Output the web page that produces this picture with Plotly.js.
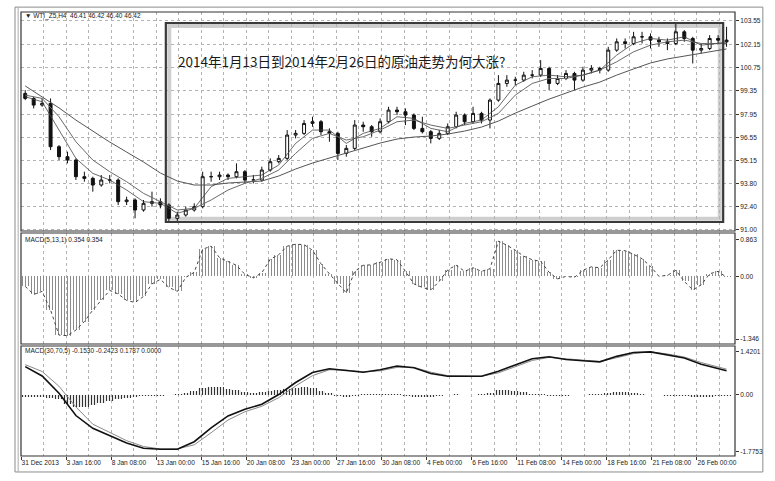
<!DOCTYPE html>
<html>
<head>
<meta charset="utf-8">
<script src="https://cdn.plot.ly/plotly-3.0.1.min.js"></script>
<style>html,body{margin:0;padding:0;background:#fff;}#chart{width:775px;height:481px;}</style>
</head>
<body>
<div id="chart"></div>
<script>
// ---- Data ----
// 12-hour aggregated candles (3 x H4 bars each), 31 Dec 2013 .. 26 Feb 2014
const openP = [99.2,98.9,98.5,98.6,96.0,95.4,95.2,94.2,94.1,93.7,
94.0,94.0,92.7,92.8,92.2,92.6,92.7,92.5,91.7,91.9,
92.2,92.4,94.2,94.2,94.3,94.2,94.5,94.0,94.0,94.6,
95.1,95.3,96.7,96.8,97.4,97.5,96.9,96.8,95.6,95.9,
97.3,97.2,96.9,97.5,98.2,98.1,97.9,97.1,96.9,96.5,
96.8,97.2,97.9,97.5,98.0,97.6,98.8,99.8,100.0,100.0,
100.3,100.3,100.7,99.8,100.1,100.4,100.0,100.6,100.7,100.6,
101.8,102.3,102.2,102.6,102.6,102.4,102.3,102.2,102.9,102.5,
101.8,101.9,102.5,102.4];
const highP = [99.4,99.0,98.9,98.9,96.1,95.7,95.3,94.5,94.2,94.3,
94.3,94.1,93.0,92.9,92.8,93.3,92.9,92.6,92.1,92.4,
92.6,94.5,94.5,94.5,94.4,95.0,94.6,94.3,94.8,95.3,
95.5,97.0,97.0,97.6,97.8,97.6,97.1,96.9,96.1,97.6,
97.5,97.3,97.7,98.4,98.4,98.3,98.0,97.8,97.0,97.0,
97.4,98.1,98.0,98.4,98.1,98.9,100.3,100.3,100.2,100.5,
100.6,101.2,100.8,100.3,100.6,100.5,100.8,100.9,100.8,102.0,
102.5,102.5,102.9,102.9,102.8,102.6,102.5,103.4,103.0,102.6,
102.2,102.7,102.7,103.2];
const lowP = [98.8,98.3,98.4,95.8,95.2,95.0,94.0,93.9,93.3,93.6,
93.8,92.5,92.5,91.7,92.1,92.4,92.3,91.5,91.5,91.8,
92.1,92.3,93.9,94.0,94.0,94.1,93.8,93.8,93.9,94.5,
95.0,95.2,96.5,96.7,97.2,96.7,96.3,95.2,95.4,95.8,
96.9,96.6,96.8,97.4,97.9,97.3,97.0,96.8,96.2,96.4,
96.7,97.1,97.3,97.4,97.4,97.1,98.7,99.6,99.7,99.9,
100.1,100.2,99.4,99.7,100.0,99.4,99.9,100.4,100.4,100.5,
101.7,101.9,102.1,102.2,101.9,102.0,101.8,102.1,102.3,101.0,
101.6,101.8,102.2,102.0];
const closeP = [98.9,98.5,98.6,96.0,95.4,95.2,94.2,94.1,93.7,94.0,
94.0,92.7,92.8,92.2,92.6,92.7,92.5,91.7,91.9,92.2,
92.4,94.2,94.2,94.3,94.2,94.5,94.0,94.0,94.6,95.1,
95.3,96.7,96.8,97.4,97.5,96.9,96.8,95.6,95.9,97.3,
97.2,96.9,97.5,98.2,98.1,97.9,97.1,96.9,96.5,96.8,
97.2,97.9,97.5,98.0,97.6,98.8,99.8,100.0,100.0,100.3,
100.3,100.7,99.8,100.1,100.4,100.0,100.6,100.7,100.6,101.8,
102.3,102.2,102.6,102.6,102.4,102.3,102.2,102.9,102.5,101.8,
101.9,102.5,102.4,102.3];

// indicator lines, sampled at these candle numbers
const lineIdx = [0,2,4,6,8,10,12,14,16,18,20,22,24,26,28,30,32,34,36,38,40,42,44,46,48,50,52,54,56,58,60,62,64,66,68,70,72,74,76,78,80,82,83];
const maFast = [99.0,98.7,97.0,95.3,94.4,94.0,93.4,92.7,92.6,92.0,
92.3,93.6,94.1,94.2,94.3,94.9,96.2,97.0,97.0,96.2,
96.8,97.1,97.8,97.7,97.1,96.9,97.4,97.6,98.4,99.7,
100.2,100.3,100.2,100.3,100.6,101.5,102.2,102.5,102.4,102.6,
102.1,102.2,102.3];
const maMid = [99.1,98.9,97.8,96.3,95.2,94.5,93.9,93.2,92.7,92.2,
92.3,92.8,93.4,93.8,94.1,94.6,95.6,96.5,96.8,96.4,
96.6,97.0,97.5,97.6,97.3,97.1,97.3,97.5,98.0,99.1,
99.8,100.1,100.1,100.3,100.6,101.1,101.7,102.1,102.3,102.4,
102.2,102.2,102.2];
const maSlow = [99.65,98.99,98.33,97.6,96.94,96.28,95.68,95.08,94.42,93.94,
93.7,93.7,93.82,93.88,93.94,94.24,94.66,95.02,95.32,95.62,
95.92,96.22,96.46,96.58,96.64,96.76,96.94,97.18,97.54,98.02,
98.44,98.86,99.22,99.58,99.88,100.3,100.67,101.03,101.27,101.45,
101.63,101.81,101.87];

const macd1Hist = [-0.2,-0.36,-0.3,-0.67,-1.17,-1.18,-1.07,-0.9,-0.67,-0.48,
-0.28,-0.35,-0.48,-0.52,-0.4,-0.15,-0.06,-0.22,-0.3,-0.02,
0.08,0.54,0.6,0.37,0.3,0.22,0.04,-0.03,0.07,0.34,
0.43,0.6,0.64,0.63,0.52,0.25,0.05,-0.15,-0.33,0.1,
0.22,0.23,0.28,0.35,0.33,0.1,-0.15,-0.22,-0.27,-0.1,
0.13,0.22,0.1,0.17,0.1,0.15,0.7,0.62,0.52,0.4,
0.33,0.3,0.08,-0.05,0.0,-0.02,0.12,0.19,0.17,0.33,
0.52,0.51,0.44,0.35,0.2,0.0,0.02,0.12,-0.1,-0.27,
-0.17,0.05,0.1,-0.02];

const macd2Hist = [-0.05,-0.06,-0.06,-0.08,-0.12,-0.25,-0.36,-0.35,-0.3,-0.24,
-0.18,-0.12,-0.08,-0.05,-0.04,-0.03,-0.02,-0.01,0.02,0.05,
0.1,0.2,0.23,0.22,0.18,0.13,0.09,0.06,0.08,0.12,
0.15,0.18,0.2,0.22,0.19,0.12,0.05,-0.02,-0.05,-0.03,
0.02,0.04,0.04,0.03,0.02,-0.04,-0.07,-0.07,-0.05,-0.02,
0.01,0.02,0.01,0.0,0.02,0.06,0.13,0.14,0.11,0.07,
0.04,0.02,-0.02,-0.03,-0.02,-0.01,0.0,0.02,0.03,0.05,
0.07,0.07,0.05,0.03,0.01,-0.01,-0.03,-0.02,-0.04,-0.06,
-0.06,-0.05,-0.04,-0.03];
const macd2Main = [0.82,0.55,0.05,-0.6,-0.97,-1.19,-1.40,-1.55,-1.58,-1.58,
-1.36,-0.96,-0.61,-0.42,-0.27,0.01,0.36,0.65,0.76,0.71,
0.66,0.73,0.84,0.79,0.62,0.54,0.54,0.54,0.69,0.87,
1.05,1.11,1.03,0.99,0.96,1.12,1.23,1.25,1.16,1.07,
0.89,0.77,0.70];
const macd2Signal = [0.88,0.68,0.25,-0.35,-0.85,-1.10,-1.33,-1.50,-1.57,-1.57,
-1.45,-1.10,-0.73,-0.49,-0.33,-0.08,0.26,0.56,0.73,0.72,
0.67,0.70,0.80,0.80,0.66,0.56,0.54,0.54,0.64,0.82,
1.00,1.09,1.05,1.00,0.97,1.08,1.20,1.25,1.19,1.10,
0.94,0.81,0.75];

const timeLabels = ["31 Dec 2013","3 Jan 16:00","8 Jan 08:00","13 Jan 00:00","15 Jan 16:00","20 Jan 08:00","23 Jan 00:00","27 Jan 16:00","30 Jan 08:00","4 Feb 00:00","6 Feb 16:00","11 Feb 08:00","14 Feb 00:00","18 Feb 16:00","21 Feb 08:00","26 Feb 00:00"];
const priceTicks = [103.55,102.15,100.75,99.35,97.95,96.55,95.15,93.80,92.40,91.00];
const priceTickText = ["103.55","102.15","100.75","99.35","97.95","96.55","95.15","93.80","92.40","91.00"];

const headerText = "▼ WTI_Z5,H4  46.41 46.42 46.40 46.42";
const macd1Text = "MACD(5,13,1) 0.354 0.354";
const macd2Text = "MACD(30,70,5) -0.1530 -0.2423 0.1787 0.0000";
const questionText = "2014年1月13日到2014年2月26日的原油走势为何大涨?";

// ---- Build ----
const idx = closeP.map((_, i) => i);
const barsPerCandle = 3, barsPerLabel = 16;
const labelStep = barsPerLabel / barsPerCandle;
const tickvals = timeLabels.map((_, k) => -0.5 + k * labelStep);

const FONT = "Liberation Sans, Arial, sans-serif";
const axFont = {family: FONT, size: 6.6, color: '#222'};
const GRID = '#b3b3b3';

const traces = [
  {type:'scatter', mode:'lines', x:lineIdx, y:maSlow, xaxis:'x', yaxis:'y', line:{color:'#555', width:1}, hoverinfo:'skip'},
  {type:'scatter', mode:'lines', x:lineIdx, y:maMid, xaxis:'x', yaxis:'y', line:{color:'#6a6a6a', width:1}, hoverinfo:'skip'},
  {type:'scatter', mode:'lines', x:lineIdx, y:maFast, xaxis:'x', yaxis:'y', line:{color:'#444', width:0.8}, hoverinfo:'skip'},
  {type:'candlestick', x:idx, open:openP, high:highP, low:lowP, close:closeP, xaxis:'x', yaxis:'y',
   whiskerwidth:0,
   increasing:{line:{color:'#111', width:1}, fillcolor:'#ffffff'},
   decreasing:{line:{color:'#111', width:1}, fillcolor:'#111111'}, hoverinfo:'skip'},
  {type:'bar', x:idx, y:macd1Hist, xaxis:'x', yaxis:'y2', width:1,
   marker:{color:'#ffffff', line:{width:0}, pattern:{shape:'|', size:3, solidity:0.33, fgcolor:'#8a8a8a'}}, hoverinfo:'skip'},
  {type:'scatter', mode:'lines', x:idx, y:macd1Hist, xaxis:'x', yaxis:'y2', line:{color:'#444', width:1, dash:'dot'}, hoverinfo:'skip'},
  {type:'bar', x:idx, y:macd2Hist, xaxis:'x', yaxis:'y3', width:1,
   marker:{color:'#ffffff', line:{width:0}, pattern:{shape:'|', size:3, solidity:0.4, fgcolor:'#333'}}, hoverinfo:'skip'},
  {type:'scatter', mode:'lines', x:lineIdx, y:macd2Signal, xaxis:'x', yaxis:'y3', line:{color:'#8a8a8a', width:1}, hoverinfo:'skip'},
  {type:'scatter', mode:'lines', x:lineIdx, y:macd2Main, xaxis:'x', yaxis:'y3', line:{color:'#111', width:1.6}, hoverinfo:'skip'}
];

const dMain = [0.5068, 1], dM1 = [0.2523, 0.5023], dM2 = [0, 0.2477];
const panelRect = (d) => ({type:'rect', xref:'paper', yref:'paper', x0:0, x1:1, y0:d[0], y1:d[1], line:{color:'#333', width:1.2}, layer:'above'});

const layout = {
  width:775, height:481,
  paper_bgcolor:'#ffffff', plot_bgcolor:'#ffffff',
  margin:{l:21, r:40, t:12, b:25},
  showlegend:false, bargap:0, boxgap:0.5,
  xaxis:{range:[-0.5, 84], anchor:'y3', tickmode:'array', tickvals:tickvals, ticktext:timeLabels, tickangle:0,
    ticklabelposition:'outside right', ticks:'outside', ticklen:3, tickcolor:'#333',
    tickfont:axFont, showgrid:true, gridcolor:GRID, griddash:'dot', gridwidth:1,
    minor:{tickmode:'linear', tick0:-0.5, dtick:labelStep/2, showgrid:true, gridcolor:GRID, griddash:'dot', gridwidth:1, ticks:''},
    zeroline:false, showline:false, rangeslider:{visible:false}, fixedrange:true},
  yaxis:{domain:dMain, range:[90.94, 104.09], side:'right', anchor:'x', tickmode:'array', tickvals:priceTicks, ticktext:priceTickText,
    ticks:'outside', ticklen:3, tickcolor:'#333', tickfont:axFont, showgrid:true, gridcolor:GRID, griddash:'dot', zeroline:false},
  yaxis2:{domain:dM1, range:[-1.346, 0.863], side:'right', anchor:'x', tickmode:'array', tickvals:[0.725, 0, -1.247], ticktext:['0.863','0.00','-1.346'],
    ticks:'outside', ticklen:3, tickcolor:'#333', tickfont:axFont, showgrid:false, zeroline:false},
  yaxis3:{domain:dM2, range:[-1.7753, 1.4201], side:'right', anchor:'x', tickmode:'array', tickvals:[1.247, 0, -1.657], ticktext:['1.4201','0.00','-1.7753'],
    ticks:'outside', ticklen:3, tickcolor:'#333', tickfont:axFont, showgrid:false, zeroline:false},
  shapes:[
    {type:'rect', xref:'paper', yref:'paper', x0:-0.0084, x1:1.039, y0:-0.036, y1:1.011, line:{color:'#8c8c8c', width:1}, layer:'below'},
    {type:'line', xref:'paper', yref:'paper', x0:-0.004, x1:-0.004, y0:-0.036, y1:1.011, line:{color:'#aaa', width:1}, layer:'below'},
    panelRect(dMain), panelRect(dM1), panelRect(dM2),
    {type:'rect', xref:'x', yref:'y', x0:17.05, x1:82.2, y0:91.68, y1:103.25, line:{color:'#cfcfcf', width:4}, layer:'below'},
    {type:'rect', xref:'x', yref:'y', x0:16.64, x1:82.6, y0:91.48, y1:103.43, line:{color:'#3a3a3a', width:2.2}, layer:'above'}
  ],
  annotations:[
    {xref:'paper', yref:'paper', x:0.003, y:0.991, xanchor:'left', yanchor:'middle', showarrow:false, text:headerText, font:{family:FONT, size:6.5, color:'#222'}},
    {xref:'paper', yref:'paper', x:0.003, y:0.4865, xanchor:'left', yanchor:'middle', showarrow:false, text:macd1Text, font:{family:FONT, size:6.5, color:'#222'}},
    {xref:'paper', yref:'paper', x:0.003, y:0.2365, xanchor:'left', yanchor:'middle', showarrow:false, text:macd2Text, font:{family:FONT, size:6.5, color:'#222'}},
    {xref:'x', yref:'y', x:17.8, y:101.15, xanchor:'left', yanchor:'middle', showarrow:false, text:questionText, font:{family:"Noto Sans CJK SC, sans-serif", size:13.5, color:'#1a1a1a'}}
  ]
};

Plotly.newPlot('chart', traces, layout, {staticPlot:true, displayModeBar:false});
</script>
</body>
</html>
